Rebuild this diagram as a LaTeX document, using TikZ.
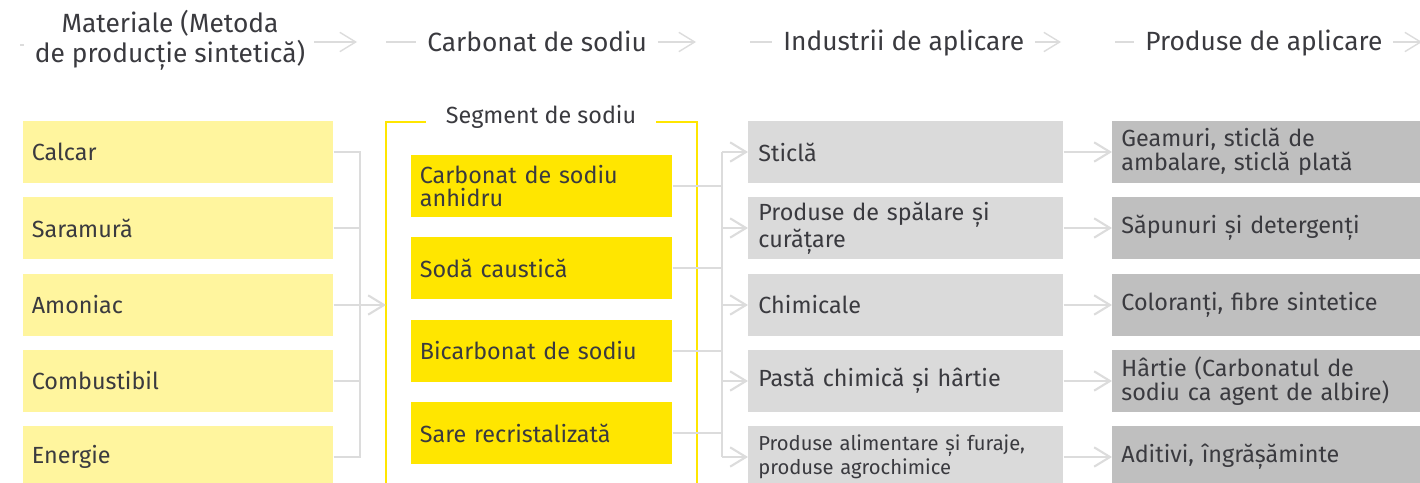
\documentclass[tikz,border=0pt]{standalone}
\usepackage{fontspec}
\setmainfont{Fira Sans}
\usetikzlibrary{arrows.meta,positioning,calc}
\definecolor{sodaInk}{HTML}{3A3A3F}
\definecolor{sodaPale}{HTML}{FFF59E}
\definecolor{sodaYellow}{HTML}{FFE600}
\definecolor{sodaGrey}{HTML}{DADADA}
\definecolor{sodaDark}{HTML}{BFBFBF}
\definecolor{sodaLine}{HTML}{DCDCDC}

\begin{document}
\begin{tikzpicture}[x=0.02cm,y=-0.02cm,
    font=\fontsize{13.3}{13.6}\selectfont, text=sodaInk,
    box/.style={anchor=west,minimum height=1.24cm,inner xsep=0.17cm,
                inner ysep=0pt,align=left},
    rawbox/.style={box,fill=sodaPale,text width=5.86cm},
    sodabox/.style={box,fill=sodaYellow,text width=4.88cm},
    usebox/.style={box,fill=sodaGrey,text width=5.9cm,inner xsep=0.2cm},
    prodbox/.style={box,fill=sodaDark,text width=5.8cm,inner xsep=0.18cm},
    link/.style={draw=sodaLine,line width=1.2pt},
    flow/.style={link,-{Straight Barb[length=9pt,width=11pt]}},
    head/.style={font=\fontsize{15}{17}\selectfont,align=center,inner sep=0pt}]
  \clip (0,0) rectangle (1420,483);
  \useasboundingbox (0,0) rectangle (1420,483);

  % column headers
  \node[head] (h1) at (170,40) {Materiale (Metoda\\de producție sintetică)};
  \node[head,anchor=west] (h2) at (427,41) {Carbonat de sodiu};
  \node[head,anchor=west] (h3) at (783,43) {Industrii de aplicare};
  \node[head,anchor=west] (h4) at (1145,43) {Produse de aplicare};
  \coordinate (t1) at (357,42);
  \coordinate (t2) at (696,42);
  \coordinate (t3) at (1061,42);
  \coordinate (t4) at (1422,42);
  \draw[link] (20,45) -- (24,45);
  \draw[flow,line width=0.8pt] (314,42) -- (t1);
  \draw[link] (386,42) -- ([xshift=-6pt]h2.west |- t2);
  \draw[flow,line width=0.8pt] ([xshift=6pt]h2.east |- t2) -- (t2);
  \draw[link] (750,42) -- ([xshift=-6pt]h3.west |- t3);
  \draw[flow,line width=0.8pt] ([xshift=6pt]h3.east |- t3) -- (t3);
  \draw[link] (1115,42) -- ([xshift=-6pt]h4.west |- t4);
  \draw[flow,line width=0.8pt] ([xshift=6pt]h4.east |- t4) -- (t4);

  % raw materials
  \node[rawbox] (m1) at (23,152) {Calcar};
  \node[rawbox] (m2) at (23,228) {Saramură};
  \node[rawbox] (m3) at (23,305) {Amoniac};
  \node[rawbox] (m4) at (23,381) {Combustibil};
  \node[rawbox] (m5) at (23,457) {Energie};

  % soda segment
  \node (seg) at (541,117) {Segment de sodiu};
  \draw[draw=sodaYellow,line width=0.9pt]
    ([xshift=-8pt]seg.west |- 0,122) -- (386,122) -- (386,490)
    ([xshift=8pt]seg.east |- 0,122) -- (697,122) -- (697,490);
  \node[sodabox] (s1) at (411,186) {Carbonat de sodiu\\anhidru};
  \node[sodabox] (s2) at (411,268) {Sodă caustică};
  \node[sodabox] (s3) at (411,351) {Bicarbonat de sodiu};
  \node[sodabox] (s4) at (411,433) {Sare recristalizată};

  % industries
  \node[usebox] (i1) at (748,152) {Sticlă};
  \node[usebox] (i2) at (748,228) {Produse de spălare și\\curățare};
  \node[usebox] (i3) at (748,305) {Chimicale};
  \node[usebox] (i4) at (748,381) {Pastă chimică și hârtie};
  \node[usebox,font=\fontsize{11.5}{13.4}\selectfont] (i5) at (748,457)
    {Produse alimentare și furaje,\\produse agrochimice};

  % products
  \node[prodbox] (p1) at (1112,152) {Geamuri, sticlă de\\ambalare, sticlă plată};
  \node[prodbox] (p2) at (1112,228) {Săpunuri și detergenți};
  \node[prodbox] (p3) at (1112,305) {Coloranți, fibre sintetice};
  \node[prodbox] (p4) at (1112,381) {Hârtie (Carbonatul de\\sodiu ca agent de albire)};
  \node[prodbox] (p5) at (1112,457) {Aditivi, îngrășăminte};

  % connectors
  \coordinate (jin) at (360,305);
  \coordinate (segIn) at (386,305);
  \coordinate (jout) at (722,305);
  \foreach \k in {1,...,5}
    \draw[link] (m\k.east) -| (jin);
  \draw[link] (m1.east -| jin) -- (m5.east -| jin);
  \draw[flow] (jin) -- (segIn);
  \foreach \k in {1,...,4}
    \draw[link] (s\k.east) -- (s\k.east -| jout);
  \draw[link] (i1.west -| jout) -- (i5.west -| jout);
  \foreach \k in {1,...,5} {
    \draw[flow] (i\k.west -| jout) -- (i\k.west);
    \draw[flow] (i\k.east) -- (p\k.west);
  }
\end{tikzpicture}
\end{document}
